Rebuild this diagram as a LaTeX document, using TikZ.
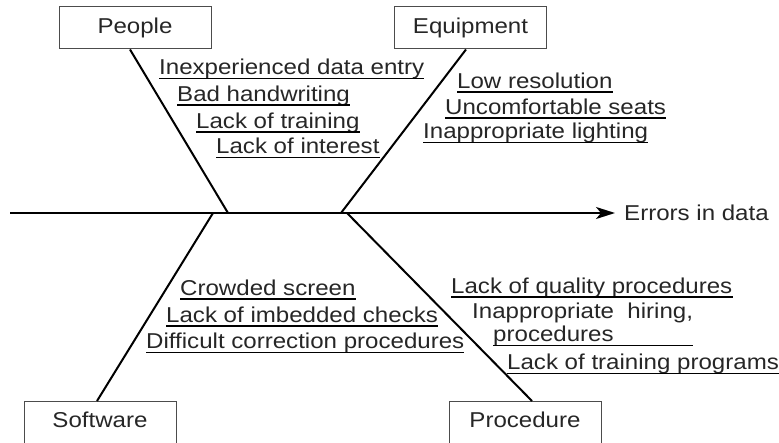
\documentclass[tikz,border=0pt]{standalone}
\usepackage{fontspec}
\setmainfont{Liberation Sans}[FakeStretch=1.12]
\usetikzlibrary{arrows.meta}
\tikzset{
  bonebox/.style={draw=black!70, line width=1pt, minimum width=152pt, minimum height=42pt, inner sep=0pt, text height=15pt, text depth=4pt},
  cause/.style={anchor=base west, inner sep=0pt},
  bone/.style={line width=2pt},
  uline/.style={line width=1.7pt}
}
\begin{document}
\begin{tikzpicture}[x=1pt,y=-1pt,font=\fontsize{21.5}{26}\selectfont,text=black!85]
\useasboundingbox (0,0) rectangle (779,443);

\node[bonebox] (people) at (135,28) {People};
\node[bonebox] (equip) at (470.5,28) {Equipment};
\node[bonebox] (soft) at (100,422.5) {Software};
\node[bonebox] (proc) at (525,422.5) {Procedure};

\coordinate (tail) at (10,213);
\coordinate (pj) at (228,213);
\coordinate (ej) at (341,213);
\coordinate (sj) at (213,213);
\coordinate (rj) at (347,213);
\node[anchor=west, inner xsep=9pt, inner ysep=0pt] (effect) at (615,213) {Errors in data};

\draw[bone,-{Stealth[length=19pt,width=12pt,inset=5pt]}] (tail) -- (effect.west);
\draw[bone] ([xshift=-5pt]people.south) -- (pj);
\draw[bone] ([xshift=-4.5pt]equip.south) -- (ej);
\draw[bone] ([xshift=-3pt]soft.north) -- (sj);
\draw[bone] ([xshift=7pt]proc.north) -- (rj);

\foreach \t/\a/\b [count=\i] in {Inexperienced data entry/159/75, Bad handwriting/177/101.7, Lack of training/196/128.3, Lack of interest/216/154}{
  \node[cause] (p\i) at (\a,\b) {\t};
  \draw[uline] ([yshift=-3.5pt]p\i.base west) -- ([yshift=-3.5pt]p\i.base east);
}

\foreach \t/\a/\b [count=\i] in {Low resolution/457/88.3, Uncomfortable seats/445/114.3, Inappropriate lighting/423/139}{
  \node[cause] (e\i) at (\a,\b) {\t};
  \draw[uline] ([yshift=-3.5pt]e\i.base west) -- ([yshift=-3.5pt]e\i.base east);
}

\foreach \t/\a/\b [count=\i] in {Crowded screen/180/295.7, Lack of imbedded checks/166/322.7, Difficult correction procedures/146/349}{
  \node[cause] (s\i) at (\a,\b) {\t};
  \draw[uline] ([yshift=-3.5pt]s\i.base west) -- ([yshift=-3.5pt]s\i.base east);
}

\foreach \n/\t/\a/\b in {r1/Lack of quality procedures/451/293.3, r4/Lack of training programs/507/370}{
  \node[cause] (\n) at (\a,\b) {\t};
  \draw[uline] ([yshift=-3.5pt]\n.base west) -- ([yshift=-3.5pt]\n.base east);
}
\node[cause] (r2) at (472,318.3) {Inappropriate\ \ hiring,};
\node[cause] (r3) at (493,342) {procedures};
\draw[uline] ([yshift=-3.5pt]r3.base west) coordinate (u) -- (u -| r2.east);

\end{tikzpicture}
\end{document}
